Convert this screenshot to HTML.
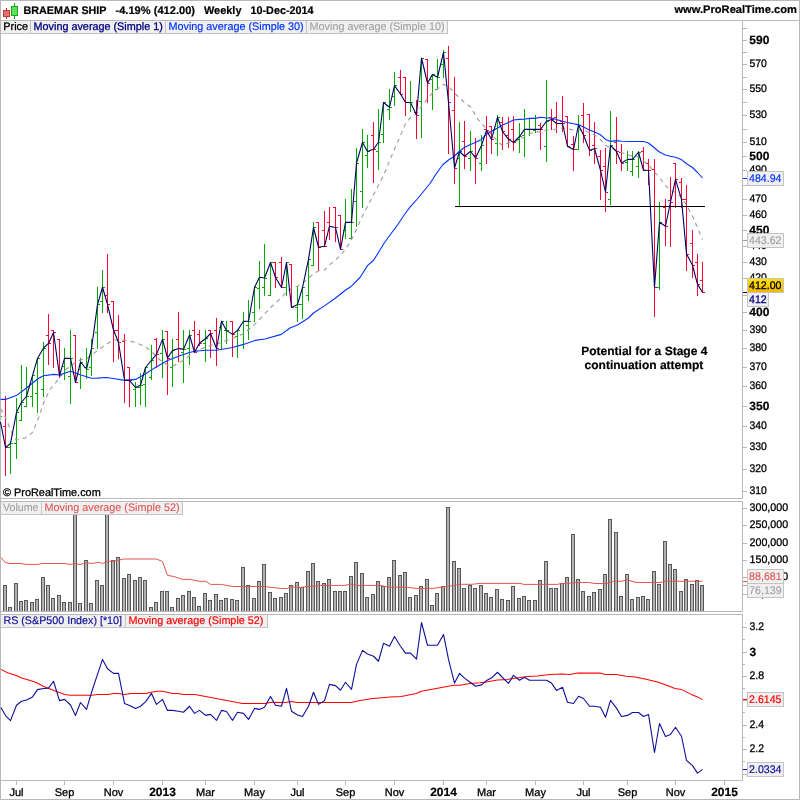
<!DOCTYPE html>
<html><head><meta charset="utf-8"><title>BRAEMAR SHIP Weekly</title>
<style>html,body{margin:0;padding:0;background:#fff}svg{display:block}</style></head>
<body>
<svg width="800" height="800" viewBox="0 0 800 800" font-family="&quot;Liberation Sans&quot;, Arial, sans-serif" text-rendering="geometricPrecision">
<rect x="0" y="0" width="800" height="800" fill="#fff"/>
<g shape-rendering="crispEdges">
<rect x="0" y="0" width="800" height="1" fill="#b8b8b8"/>
<rect x="0" y="799" width="800" height="1" fill="#b8b8b8"/>
<rect x="0" y="0" width="1" height="800" fill="#b8b8b8"/>
<rect x="799" y="0" width="1" height="800" fill="#b8b8b8"/>
<rect x="0" y="20" width="800" height="1" fill="#b8b8b8"/>
<rect x="0" y="498" width="743" height="1" fill="#b8b8b8"/>
<rect x="742" y="20" width="1" height="479" fill="#b8b8b8"/>
<rect x="0" y="501" width="743" height="1" fill="#b8b8b8"/>
<rect x="0" y="611" width="743" height="1" fill="#b8b8b8"/>
<rect x="742" y="501" width="1" height="111" fill="#b8b8b8"/>
<rect x="0" y="614" width="743" height="1" fill="#b8b8b8"/>
<rect x="0" y="780" width="743" height="1" fill="#b8b8b8"/>
<rect x="742" y="614" width="1" height="167" fill="#b8b8b8"/>
</g>
<g shape-rendering="crispEdges">
<rect x="743" y="491" width="4" height="1" fill="#b8b8b8"/>
<rect x="743" y="469" width="4" height="1" fill="#b8b8b8"/>
<rect x="743" y="447" width="4" height="1" fill="#b8b8b8"/>
<rect x="743" y="426" width="4" height="1" fill="#b8b8b8"/>
<rect x="743" y="406" width="4" height="1" fill="#b8b8b8"/>
<rect x="743" y="386" width="4" height="1" fill="#b8b8b8"/>
<rect x="743" y="367" width="4" height="1" fill="#b8b8b8"/>
<rect x="743" y="348" width="4" height="1" fill="#b8b8b8"/>
<rect x="743" y="330" width="4" height="1" fill="#b8b8b8"/>
<rect x="743" y="312" width="4" height="1" fill="#b8b8b8"/>
<rect x="743" y="295" width="4" height="1" fill="#b8b8b8"/>
<rect x="743" y="278" width="4" height="1" fill="#b8b8b8"/>
<rect x="743" y="262" width="4" height="1" fill="#b8b8b8"/>
<rect x="743" y="246" width="4" height="1" fill="#b8b8b8"/>
<rect x="743" y="230" width="4" height="1" fill="#b8b8b8"/>
<rect x="743" y="215" width="4" height="1" fill="#b8b8b8"/>
<rect x="743" y="199" width="4" height="1" fill="#b8b8b8"/>
<rect x="743" y="185" width="4" height="1" fill="#b8b8b8"/>
<rect x="743" y="170" width="4" height="1" fill="#b8b8b8"/>
<rect x="743" y="156" width="4" height="1" fill="#b8b8b8"/>
<rect x="743" y="142" width="4" height="1" fill="#b8b8b8"/>
<rect x="743" y="129" width="4" height="1" fill="#b8b8b8"/>
<rect x="743" y="115" width="4" height="1" fill="#b8b8b8"/>
<rect x="743" y="102" width="4" height="1" fill="#b8b8b8"/>
<rect x="743" y="89" width="4" height="1" fill="#b8b8b8"/>
<rect x="743" y="77" width="4" height="1" fill="#b8b8b8"/>
<rect x="743" y="64" width="4" height="1" fill="#b8b8b8"/>
<rect x="743" y="52" width="4" height="1" fill="#b8b8b8"/>
<rect x="743" y="40" width="4" height="1" fill="#b8b8b8"/>
<rect x="743" y="28" width="4" height="1" fill="#b8b8b8"/>
</g>
<text x="749.3" y="43.7" font-size="12" fill="#000" stroke="#000" stroke-width="0.2" font-weight="bold" xml:space="preserve">590</text>
<text x="749.5" y="67.0" font-size="11" fill="#000" stroke="#000" stroke-width="0.3" textLength="17.4" lengthAdjust="spacingAndGlyphs" xml:space="preserve">570</text>
<text x="749.5" y="92.0" font-size="11" fill="#000" stroke="#000" stroke-width="0.3" textLength="17.4" lengthAdjust="spacingAndGlyphs" xml:space="preserve">550</text>
<text x="749.5" y="118.0" font-size="11" fill="#000" stroke="#000" stroke-width="0.3" textLength="17.4" lengthAdjust="spacingAndGlyphs" xml:space="preserve">530</text>
<text x="749.5" y="145.0" font-size="11" fill="#000" stroke="#000" stroke-width="0.3" textLength="17.4" lengthAdjust="spacingAndGlyphs" xml:space="preserve">510</text>
<text x="749.3" y="159.7" font-size="12" fill="#000" stroke="#000" stroke-width="0.2" font-weight="bold" xml:space="preserve">500</text>
<text x="749.5" y="173.0" font-size="11" fill="#000" stroke="#000" stroke-width="0.3" textLength="17.4" lengthAdjust="spacingAndGlyphs" xml:space="preserve">490</text>
<text x="749.5" y="202.0" font-size="11" fill="#000" stroke="#000" stroke-width="0.3" textLength="17.4" lengthAdjust="spacingAndGlyphs" xml:space="preserve">470</text>
<text x="749.5" y="218.0" font-size="11" fill="#000" stroke="#000" stroke-width="0.3" textLength="17.4" lengthAdjust="spacingAndGlyphs" xml:space="preserve">460</text>
<text x="749.3" y="233.7" font-size="12" fill="#000" stroke="#000" stroke-width="0.2" font-weight="bold" xml:space="preserve">450</text>
<text x="749.5" y="249.0" font-size="11" fill="#000" stroke="#000" stroke-width="0.3" textLength="17.4" lengthAdjust="spacingAndGlyphs" xml:space="preserve">440</text>
<text x="749.5" y="265.0" font-size="11" fill="#000" stroke="#000" stroke-width="0.3" textLength="17.4" lengthAdjust="spacingAndGlyphs" xml:space="preserve">430</text>
<text x="749.5" y="281.0" font-size="11" fill="#000" stroke="#000" stroke-width="0.3" textLength="17.4" lengthAdjust="spacingAndGlyphs" xml:space="preserve">420</text>
<text x="749.3" y="315.7" font-size="12" fill="#000" stroke="#000" stroke-width="0.2" font-weight="bold" xml:space="preserve">400</text>
<text x="749.5" y="333.0" font-size="11" fill="#000" stroke="#000" stroke-width="0.3" textLength="17.4" lengthAdjust="spacingAndGlyphs" xml:space="preserve">390</text>
<text x="749.5" y="351.0" font-size="11" fill="#000" stroke="#000" stroke-width="0.3" textLength="17.4" lengthAdjust="spacingAndGlyphs" xml:space="preserve">380</text>
<text x="749.5" y="370.0" font-size="11" fill="#000" stroke="#000" stroke-width="0.3" textLength="17.4" lengthAdjust="spacingAndGlyphs" xml:space="preserve">370</text>
<text x="749.5" y="389.0" font-size="11" fill="#000" stroke="#000" stroke-width="0.3" textLength="17.4" lengthAdjust="spacingAndGlyphs" xml:space="preserve">360</text>
<text x="749.3" y="409.7" font-size="12" fill="#000" stroke="#000" stroke-width="0.2" font-weight="bold" xml:space="preserve">350</text>
<text x="749.5" y="429.0" font-size="11" fill="#000" stroke="#000" stroke-width="0.3" textLength="17.4" lengthAdjust="spacingAndGlyphs" xml:space="preserve">340</text>
<text x="749.5" y="450.0" font-size="11" fill="#000" stroke="#000" stroke-width="0.3" textLength="17.4" lengthAdjust="spacingAndGlyphs" xml:space="preserve">330</text>
<text x="749.5" y="472.0" font-size="11" fill="#000" stroke="#000" stroke-width="0.3" textLength="17.4" lengthAdjust="spacingAndGlyphs" xml:space="preserve">320</text>
<text x="749.5" y="494.0" font-size="11" fill="#000" stroke="#000" stroke-width="0.3" textLength="17.4" lengthAdjust="spacingAndGlyphs" xml:space="preserve">310</text>
<g shape-rendering="crispEdges">
<rect x="743" y="508" width="4" height="1" fill="#b8b8b8"/>
<rect x="743" y="525" width="4" height="1" fill="#b8b8b8"/>
<rect x="743" y="543" width="4" height="1" fill="#b8b8b8"/>
<rect x="743" y="560" width="4" height="1" fill="#b8b8b8"/>
<rect x="743" y="577" width="4" height="1" fill="#b8b8b8"/>
<rect x="743" y="594" width="4" height="1" fill="#b8b8b8"/>
</g>
<text x="749.5" y="511.0" font-size="11" fill="#000" stroke="#000" stroke-width="0.3" textLength="38.6" lengthAdjust="spacingAndGlyphs" xml:space="preserve">300,000</text>
<text x="749.5" y="528.0" font-size="11" fill="#000" stroke="#000" stroke-width="0.3" textLength="38.6" lengthAdjust="spacingAndGlyphs" xml:space="preserve">250,000</text>
<text x="749.5" y="546.0" font-size="11" fill="#000" stroke="#000" stroke-width="0.3" textLength="38.6" lengthAdjust="spacingAndGlyphs" xml:space="preserve">200,000</text>
<text x="749.5" y="563.0" font-size="11" fill="#000" stroke="#000" stroke-width="0.3" textLength="38.6" lengthAdjust="spacingAndGlyphs" xml:space="preserve">150,000</text>
<text x="749.5" y="580.0" font-size="11" fill="#000" stroke="#000" stroke-width="0.3" textLength="38.6" lengthAdjust="spacingAndGlyphs" xml:space="preserve">100,000</text>
<text x="749.5" y="597.0" font-size="11" fill="#000" stroke="#000" stroke-width="0.3" textLength="32.6" lengthAdjust="spacingAndGlyphs" xml:space="preserve">50,000</text>
<g shape-rendering="crispEdges">
<rect x="743" y="627" width="4" height="1" fill="#b8b8b8"/>
<rect x="743" y="639" width="2" height="1" fill="#b8b8b8"/>
<rect x="743" y="652" width="4" height="1" fill="#b8b8b8"/>
<rect x="743" y="664" width="2" height="1" fill="#b8b8b8"/>
<rect x="743" y="676" width="4" height="1" fill="#b8b8b8"/>
<rect x="743" y="688" width="2" height="1" fill="#b8b8b8"/>
<rect x="743" y="700" width="4" height="1" fill="#b8b8b8"/>
<rect x="743" y="712" width="2" height="1" fill="#b8b8b8"/>
<rect x="743" y="725" width="4" height="1" fill="#b8b8b8"/>
<rect x="743" y="737" width="2" height="1" fill="#b8b8b8"/>
<rect x="743" y="749" width="4" height="1" fill="#b8b8b8"/>
<rect x="743" y="761" width="2" height="1" fill="#b8b8b8"/>
<rect x="743" y="774" width="4" height="1" fill="#b8b8b8"/>
</g>
<text x="749.5" y="630.0" font-size="11" fill="#000" stroke="#000" stroke-width="0.3" textLength="14.6" lengthAdjust="spacingAndGlyphs" xml:space="preserve">3.2</text>
<text x="749.5" y="655.7" font-size="12" fill="#000" stroke="#000" stroke-width="0.2" font-weight="bold" xml:space="preserve">3</text>
<text x="749.5" y="679.0" font-size="11" fill="#000" stroke="#000" stroke-width="0.3" textLength="14.6" lengthAdjust="spacingAndGlyphs" xml:space="preserve">2.8</text>
<text x="749.5" y="703.0" font-size="11" fill="#000" stroke="#000" stroke-width="0.3" textLength="14.6" lengthAdjust="spacingAndGlyphs" xml:space="preserve">2.6</text>
<text x="749.5" y="728.0" font-size="11" fill="#000" stroke="#000" stroke-width="0.3" textLength="14.6" lengthAdjust="spacingAndGlyphs" xml:space="preserve">2.4</text>
<text x="749.5" y="752.0" font-size="11" fill="#000" stroke="#000" stroke-width="0.3" textLength="14.6" lengthAdjust="spacingAndGlyphs" xml:space="preserve">2.2</text>
<g shape-rendering="crispEdges">
<rect x="16" y="781" width="1" height="4" fill="#b8b8b8"/>
<rect x="64" y="781" width="1" height="4" fill="#b8b8b8"/>
<rect x="113" y="781" width="1" height="4" fill="#b8b8b8"/>
<rect x="162" y="781" width="1" height="4" fill="#b8b8b8"/>
<rect x="205" y="781" width="1" height="4" fill="#b8b8b8"/>
<rect x="254" y="781" width="1" height="4" fill="#b8b8b8"/>
<rect x="297" y="781" width="1" height="4" fill="#b8b8b8"/>
<rect x="345" y="781" width="1" height="4" fill="#b8b8b8"/>
<rect x="394" y="781" width="1" height="4" fill="#b8b8b8"/>
<rect x="443" y="781" width="1" height="4" fill="#b8b8b8"/>
<rect x="486" y="781" width="1" height="4" fill="#b8b8b8"/>
<rect x="535" y="781" width="1" height="4" fill="#b8b8b8"/>
<rect x="583" y="781" width="1" height="4" fill="#b8b8b8"/>
<rect x="627" y="781" width="1" height="4" fill="#b8b8b8"/>
<rect x="675" y="781" width="1" height="4" fill="#b8b8b8"/>
<rect x="724" y="781" width="1" height="4" fill="#b8b8b8"/>
</g>
<text x="16.5" y="795.6" font-size="11" fill="#000" stroke="#000" stroke-width="0.3" text-anchor="middle" xml:space="preserve">Jul</text>
<text x="64.5" y="795.6" font-size="11" fill="#000" stroke="#000" stroke-width="0.3" text-anchor="middle" xml:space="preserve">Sep</text>
<text x="113.5" y="795.6" font-size="11" fill="#000" stroke="#000" stroke-width="0.3" text-anchor="middle" xml:space="preserve">Nov</text>
<text x="162.5" y="795.6" font-size="12" fill="#000" stroke="#000" stroke-width="0.2" font-weight="bold" text-anchor="middle" xml:space="preserve">2013</text>
<text x="205.5" y="795.6" font-size="11" fill="#000" stroke="#000" stroke-width="0.3" text-anchor="middle" xml:space="preserve">Mar</text>
<text x="254.5" y="795.6" font-size="11" fill="#000" stroke="#000" stroke-width="0.3" text-anchor="middle" xml:space="preserve">May</text>
<text x="297.5" y="795.6" font-size="11" fill="#000" stroke="#000" stroke-width="0.3" text-anchor="middle" xml:space="preserve">Jul</text>
<text x="345.5" y="795.6" font-size="11" fill="#000" stroke="#000" stroke-width="0.3" text-anchor="middle" xml:space="preserve">Sep</text>
<text x="394.5" y="795.6" font-size="11" fill="#000" stroke="#000" stroke-width="0.3" text-anchor="middle" xml:space="preserve">Nov</text>
<text x="443.5" y="795.6" font-size="12" fill="#000" stroke="#000" stroke-width="0.2" font-weight="bold" text-anchor="middle" xml:space="preserve">2014</text>
<text x="486.5" y="795.6" font-size="11" fill="#000" stroke="#000" stroke-width="0.3" text-anchor="middle" xml:space="preserve">Mar</text>
<text x="535.5" y="795.6" font-size="11" fill="#000" stroke="#000" stroke-width="0.3" text-anchor="middle" xml:space="preserve">May</text>
<text x="583.5" y="795.6" font-size="11" fill="#000" stroke="#000" stroke-width="0.3" text-anchor="middle" xml:space="preserve">Jul</text>
<text x="627.5" y="795.6" font-size="11" fill="#000" stroke="#000" stroke-width="0.3" text-anchor="middle" xml:space="preserve">Sep</text>
<text x="675.5" y="795.6" font-size="11" fill="#000" stroke="#000" stroke-width="0.3" text-anchor="middle" xml:space="preserve">Nov</text>
<text x="724.5" y="795.6" font-size="12" fill="#000" stroke="#000" stroke-width="0.2" font-weight="bold" text-anchor="middle" xml:space="preserve">2015</text>
<g shape-rendering="crispEdges">
<rect x="3" y="585" width="4" height="26" fill="#585858"/>
<rect x="4" y="586" width="2" height="25" fill="#b2b2b2"/>
<rect x="8" y="607" width="4" height="4" fill="#585858"/>
<rect x="9" y="608" width="2" height="3" fill="#b2b2b2"/>
<rect x="14" y="583" width="4" height="28" fill="#585858"/>
<rect x="15" y="584" width="2" height="27" fill="#b2b2b2"/>
<rect x="19" y="601" width="4" height="10" fill="#585858"/>
<rect x="20" y="602" width="2" height="9" fill="#b2b2b2"/>
<rect x="24" y="600" width="4" height="11" fill="#585858"/>
<rect x="25" y="601" width="2" height="10" fill="#b2b2b2"/>
<rect x="30" y="602" width="4" height="9" fill="#585858"/>
<rect x="31" y="603" width="2" height="8" fill="#b2b2b2"/>
<rect x="35" y="599" width="4" height="12" fill="#585858"/>
<rect x="36" y="600" width="2" height="11" fill="#b2b2b2"/>
<rect x="41" y="577" width="4" height="34" fill="#585858"/>
<rect x="42" y="578" width="2" height="33" fill="#b2b2b2"/>
<rect x="46" y="585" width="4" height="26" fill="#585858"/>
<rect x="47" y="586" width="2" height="25" fill="#b2b2b2"/>
<rect x="51" y="598" width="4" height="13" fill="#585858"/>
<rect x="52" y="599" width="2" height="12" fill="#b2b2b2"/>
<rect x="57" y="595" width="4" height="16" fill="#585858"/>
<rect x="58" y="596" width="2" height="15" fill="#b2b2b2"/>
<rect x="62" y="602" width="4" height="9" fill="#585858"/>
<rect x="63" y="603" width="2" height="8" fill="#b2b2b2"/>
<rect x="68" y="602" width="4" height="9" fill="#585858"/>
<rect x="69" y="603" width="2" height="8" fill="#b2b2b2"/>
<rect x="73" y="502" width="4" height="109" fill="#585858"/>
<rect x="74" y="503" width="2" height="108" fill="#b2b2b2"/>
<rect x="78" y="603" width="4" height="8" fill="#585858"/>
<rect x="79" y="604" width="2" height="7" fill="#b2b2b2"/>
<rect x="84" y="560" width="4" height="51" fill="#585858"/>
<rect x="85" y="561" width="2" height="50" fill="#b2b2b2"/>
<rect x="89" y="603" width="4" height="8" fill="#585858"/>
<rect x="90" y="604" width="2" height="7" fill="#b2b2b2"/>
<rect x="95" y="580" width="4" height="31" fill="#585858"/>
<rect x="96" y="581" width="2" height="30" fill="#b2b2b2"/>
<rect x="100" y="585" width="4" height="26" fill="#585858"/>
<rect x="101" y="586" width="2" height="25" fill="#b2b2b2"/>
<rect x="105" y="502" width="4" height="109" fill="#585858"/>
<rect x="106" y="503" width="2" height="108" fill="#b2b2b2"/>
<rect x="111" y="560" width="4" height="51" fill="#585858"/>
<rect x="112" y="561" width="2" height="50" fill="#b2b2b2"/>
<rect x="116" y="557" width="4" height="54" fill="#585858"/>
<rect x="117" y="558" width="2" height="53" fill="#b2b2b2"/>
<rect x="122" y="578" width="4" height="33" fill="#585858"/>
<rect x="123" y="579" width="2" height="32" fill="#b2b2b2"/>
<rect x="127" y="574" width="4" height="37" fill="#585858"/>
<rect x="128" y="575" width="2" height="36" fill="#b2b2b2"/>
<rect x="133" y="580" width="4" height="31" fill="#585858"/>
<rect x="134" y="581" width="2" height="30" fill="#b2b2b2"/>
<rect x="138" y="577" width="4" height="34" fill="#585858"/>
<rect x="139" y="578" width="2" height="33" fill="#b2b2b2"/>
<rect x="143" y="580" width="4" height="31" fill="#585858"/>
<rect x="144" y="581" width="2" height="30" fill="#b2b2b2"/>
<rect x="149" y="607" width="4" height="4" fill="#585858"/>
<rect x="150" y="608" width="2" height="3" fill="#b2b2b2"/>
<rect x="154" y="602" width="4" height="9" fill="#585858"/>
<rect x="155" y="603" width="2" height="8" fill="#b2b2b2"/>
<rect x="160" y="591" width="4" height="20" fill="#585858"/>
<rect x="161" y="592" width="2" height="19" fill="#b2b2b2"/>
<rect x="165" y="591" width="4" height="20" fill="#585858"/>
<rect x="166" y="592" width="2" height="19" fill="#b2b2b2"/>
<rect x="170" y="607" width="4" height="4" fill="#585858"/>
<rect x="171" y="608" width="2" height="3" fill="#b2b2b2"/>
<rect x="176" y="598" width="4" height="13" fill="#585858"/>
<rect x="177" y="599" width="2" height="12" fill="#b2b2b2"/>
<rect x="181" y="595" width="4" height="16" fill="#585858"/>
<rect x="182" y="596" width="2" height="15" fill="#b2b2b2"/>
<rect x="187" y="591" width="4" height="20" fill="#585858"/>
<rect x="188" y="592" width="2" height="19" fill="#b2b2b2"/>
<rect x="192" y="597" width="4" height="14" fill="#585858"/>
<rect x="193" y="598" width="2" height="13" fill="#b2b2b2"/>
<rect x="197" y="606" width="4" height="5" fill="#585858"/>
<rect x="198" y="607" width="2" height="4" fill="#b2b2b2"/>
<rect x="203" y="593" width="4" height="18" fill="#585858"/>
<rect x="204" y="594" width="2" height="17" fill="#b2b2b2"/>
<rect x="208" y="600" width="4" height="11" fill="#585858"/>
<rect x="209" y="601" width="2" height="10" fill="#b2b2b2"/>
<rect x="214" y="594" width="4" height="17" fill="#585858"/>
<rect x="215" y="595" width="2" height="16" fill="#b2b2b2"/>
<rect x="219" y="600" width="4" height="11" fill="#585858"/>
<rect x="220" y="601" width="2" height="10" fill="#b2b2b2"/>
<rect x="224" y="598" width="4" height="13" fill="#585858"/>
<rect x="225" y="599" width="2" height="12" fill="#b2b2b2"/>
<rect x="230" y="599" width="4" height="12" fill="#585858"/>
<rect x="231" y="600" width="2" height="11" fill="#b2b2b2"/>
<rect x="235" y="600" width="4" height="11" fill="#585858"/>
<rect x="236" y="601" width="2" height="10" fill="#b2b2b2"/>
<rect x="241" y="567" width="4" height="44" fill="#585858"/>
<rect x="242" y="568" width="2" height="43" fill="#b2b2b2"/>
<rect x="246" y="585" width="4" height="26" fill="#585858"/>
<rect x="247" y="586" width="2" height="25" fill="#b2b2b2"/>
<rect x="252" y="598" width="4" height="13" fill="#585858"/>
<rect x="253" y="599" width="2" height="12" fill="#b2b2b2"/>
<rect x="257" y="581" width="4" height="30" fill="#585858"/>
<rect x="258" y="582" width="2" height="29" fill="#b2b2b2"/>
<rect x="262" y="564" width="4" height="47" fill="#585858"/>
<rect x="263" y="565" width="2" height="46" fill="#b2b2b2"/>
<rect x="268" y="592" width="4" height="19" fill="#585858"/>
<rect x="269" y="593" width="2" height="18" fill="#b2b2b2"/>
<rect x="273" y="598" width="4" height="13" fill="#585858"/>
<rect x="274" y="599" width="2" height="12" fill="#b2b2b2"/>
<rect x="279" y="597" width="4" height="14" fill="#585858"/>
<rect x="280" y="598" width="2" height="13" fill="#b2b2b2"/>
<rect x="284" y="593" width="4" height="18" fill="#585858"/>
<rect x="285" y="594" width="2" height="17" fill="#b2b2b2"/>
<rect x="289" y="585" width="4" height="26" fill="#585858"/>
<rect x="290" y="586" width="2" height="25" fill="#b2b2b2"/>
<rect x="295" y="582" width="4" height="29" fill="#585858"/>
<rect x="296" y="583" width="2" height="28" fill="#b2b2b2"/>
<rect x="300" y="587" width="4" height="24" fill="#585858"/>
<rect x="301" y="588" width="2" height="23" fill="#b2b2b2"/>
<rect x="306" y="571" width="4" height="40" fill="#585858"/>
<rect x="307" y="572" width="2" height="39" fill="#b2b2b2"/>
<rect x="311" y="563" width="4" height="48" fill="#585858"/>
<rect x="312" y="564" width="2" height="47" fill="#b2b2b2"/>
<rect x="316" y="581" width="4" height="30" fill="#585858"/>
<rect x="317" y="582" width="2" height="29" fill="#b2b2b2"/>
<rect x="322" y="583" width="4" height="28" fill="#585858"/>
<rect x="323" y="584" width="2" height="27" fill="#b2b2b2"/>
<rect x="327" y="579" width="4" height="32" fill="#585858"/>
<rect x="328" y="580" width="2" height="31" fill="#b2b2b2"/>
<rect x="333" y="591" width="4" height="20" fill="#585858"/>
<rect x="334" y="592" width="2" height="19" fill="#b2b2b2"/>
<rect x="338" y="591" width="4" height="20" fill="#585858"/>
<rect x="339" y="592" width="2" height="19" fill="#b2b2b2"/>
<rect x="343" y="591" width="4" height="20" fill="#585858"/>
<rect x="344" y="592" width="2" height="19" fill="#b2b2b2"/>
<rect x="349" y="576" width="4" height="35" fill="#585858"/>
<rect x="350" y="577" width="2" height="34" fill="#b2b2b2"/>
<rect x="354" y="562" width="4" height="49" fill="#585858"/>
<rect x="355" y="563" width="2" height="48" fill="#b2b2b2"/>
<rect x="360" y="573" width="4" height="38" fill="#585858"/>
<rect x="361" y="574" width="2" height="37" fill="#b2b2b2"/>
<rect x="365" y="597" width="4" height="14" fill="#585858"/>
<rect x="366" y="598" width="2" height="13" fill="#b2b2b2"/>
<rect x="371" y="594" width="4" height="17" fill="#585858"/>
<rect x="372" y="595" width="2" height="16" fill="#b2b2b2"/>
<rect x="376" y="581" width="4" height="30" fill="#585858"/>
<rect x="377" y="582" width="2" height="29" fill="#b2b2b2"/>
<rect x="381" y="586" width="4" height="25" fill="#585858"/>
<rect x="382" y="587" width="2" height="24" fill="#b2b2b2"/>
<rect x="387" y="577" width="4" height="34" fill="#585858"/>
<rect x="388" y="578" width="2" height="33" fill="#b2b2b2"/>
<rect x="392" y="560" width="4" height="51" fill="#585858"/>
<rect x="393" y="561" width="2" height="50" fill="#b2b2b2"/>
<rect x="398" y="575" width="4" height="36" fill="#585858"/>
<rect x="399" y="576" width="2" height="35" fill="#b2b2b2"/>
<rect x="403" y="572" width="4" height="39" fill="#585858"/>
<rect x="404" y="573" width="2" height="38" fill="#b2b2b2"/>
<rect x="408" y="597" width="4" height="14" fill="#585858"/>
<rect x="409" y="598" width="2" height="13" fill="#b2b2b2"/>
<rect x="414" y="595" width="4" height="16" fill="#585858"/>
<rect x="415" y="596" width="2" height="15" fill="#b2b2b2"/>
<rect x="419" y="586" width="4" height="25" fill="#585858"/>
<rect x="420" y="587" width="2" height="24" fill="#b2b2b2"/>
<rect x="425" y="579" width="4" height="32" fill="#585858"/>
<rect x="426" y="580" width="2" height="31" fill="#b2b2b2"/>
<rect x="430" y="605" width="4" height="6" fill="#585858"/>
<rect x="431" y="606" width="2" height="5" fill="#b2b2b2"/>
<rect x="435" y="593" width="4" height="18" fill="#585858"/>
<rect x="436" y="594" width="2" height="17" fill="#b2b2b2"/>
<rect x="441" y="586" width="4" height="25" fill="#585858"/>
<rect x="442" y="587" width="2" height="24" fill="#b2b2b2"/>
<rect x="446" y="507" width="4" height="104" fill="#585858"/>
<rect x="447" y="508" width="2" height="103" fill="#b2b2b2"/>
<rect x="452" y="561" width="4" height="50" fill="#585858"/>
<rect x="453" y="562" width="2" height="49" fill="#b2b2b2"/>
<rect x="457" y="568" width="4" height="43" fill="#585858"/>
<rect x="458" y="569" width="2" height="42" fill="#b2b2b2"/>
<rect x="462" y="588" width="4" height="23" fill="#585858"/>
<rect x="463" y="589" width="2" height="22" fill="#b2b2b2"/>
<rect x="468" y="585" width="4" height="26" fill="#585858"/>
<rect x="469" y="586" width="2" height="25" fill="#b2b2b2"/>
<rect x="473" y="588" width="4" height="23" fill="#585858"/>
<rect x="474" y="589" width="2" height="22" fill="#b2b2b2"/>
<rect x="479" y="585" width="4" height="26" fill="#585858"/>
<rect x="480" y="586" width="2" height="25" fill="#b2b2b2"/>
<rect x="484" y="593" width="4" height="18" fill="#585858"/>
<rect x="485" y="594" width="2" height="17" fill="#b2b2b2"/>
<rect x="489" y="597" width="4" height="14" fill="#585858"/>
<rect x="490" y="598" width="2" height="13" fill="#b2b2b2"/>
<rect x="495" y="589" width="4" height="22" fill="#585858"/>
<rect x="496" y="590" width="2" height="21" fill="#b2b2b2"/>
<rect x="500" y="599" width="4" height="12" fill="#585858"/>
<rect x="501" y="600" width="2" height="11" fill="#b2b2b2"/>
<rect x="506" y="600" width="4" height="11" fill="#585858"/>
<rect x="507" y="601" width="2" height="10" fill="#b2b2b2"/>
<rect x="511" y="586" width="4" height="25" fill="#585858"/>
<rect x="512" y="587" width="2" height="24" fill="#b2b2b2"/>
<rect x="517" y="598" width="4" height="13" fill="#585858"/>
<rect x="518" y="599" width="2" height="12" fill="#b2b2b2"/>
<rect x="522" y="596" width="4" height="15" fill="#585858"/>
<rect x="523" y="597" width="2" height="14" fill="#b2b2b2"/>
<rect x="527" y="600" width="4" height="11" fill="#585858"/>
<rect x="528" y="601" width="2" height="10" fill="#b2b2b2"/>
<rect x="533" y="600" width="4" height="11" fill="#585858"/>
<rect x="534" y="601" width="2" height="10" fill="#b2b2b2"/>
<rect x="538" y="580" width="4" height="31" fill="#585858"/>
<rect x="539" y="581" width="2" height="30" fill="#b2b2b2"/>
<rect x="544" y="561" width="4" height="50" fill="#585858"/>
<rect x="545" y="562" width="2" height="49" fill="#b2b2b2"/>
<rect x="549" y="588" width="4" height="23" fill="#585858"/>
<rect x="550" y="589" width="2" height="22" fill="#b2b2b2"/>
<rect x="554" y="588" width="4" height="23" fill="#585858"/>
<rect x="555" y="589" width="2" height="22" fill="#b2b2b2"/>
<rect x="560" y="583" width="4" height="28" fill="#585858"/>
<rect x="561" y="584" width="2" height="27" fill="#b2b2b2"/>
<rect x="565" y="577" width="4" height="34" fill="#585858"/>
<rect x="566" y="578" width="2" height="33" fill="#b2b2b2"/>
<rect x="571" y="534" width="4" height="77" fill="#585858"/>
<rect x="572" y="535" width="2" height="76" fill="#b2b2b2"/>
<rect x="576" y="579" width="4" height="32" fill="#585858"/>
<rect x="577" y="580" width="2" height="31" fill="#b2b2b2"/>
<rect x="581" y="591" width="4" height="20" fill="#585858"/>
<rect x="582" y="592" width="2" height="19" fill="#b2b2b2"/>
<rect x="587" y="596" width="4" height="15" fill="#585858"/>
<rect x="588" y="597" width="2" height="14" fill="#b2b2b2"/>
<rect x="592" y="592" width="4" height="19" fill="#585858"/>
<rect x="593" y="593" width="2" height="18" fill="#b2b2b2"/>
<rect x="598" y="589" width="4" height="22" fill="#585858"/>
<rect x="599" y="590" width="2" height="21" fill="#b2b2b2"/>
<rect x="603" y="574" width="4" height="37" fill="#585858"/>
<rect x="604" y="575" width="2" height="36" fill="#b2b2b2"/>
<rect x="608" y="519" width="4" height="92" fill="#585858"/>
<rect x="609" y="520" width="2" height="91" fill="#b2b2b2"/>
<rect x="614" y="532" width="4" height="79" fill="#585858"/>
<rect x="615" y="533" width="2" height="78" fill="#b2b2b2"/>
<rect x="619" y="596" width="4" height="15" fill="#585858"/>
<rect x="620" y="597" width="2" height="14" fill="#b2b2b2"/>
<rect x="625" y="574" width="4" height="37" fill="#585858"/>
<rect x="626" y="575" width="2" height="36" fill="#b2b2b2"/>
<rect x="630" y="599" width="4" height="12" fill="#585858"/>
<rect x="631" y="600" width="2" height="11" fill="#b2b2b2"/>
<rect x="636" y="597" width="4" height="14" fill="#585858"/>
<rect x="637" y="598" width="2" height="13" fill="#b2b2b2"/>
<rect x="641" y="596" width="4" height="15" fill="#585858"/>
<rect x="642" y="597" width="2" height="14" fill="#b2b2b2"/>
<rect x="646" y="599" width="4" height="12" fill="#585858"/>
<rect x="647" y="600" width="2" height="11" fill="#b2b2b2"/>
<rect x="652" y="571" width="4" height="40" fill="#585858"/>
<rect x="653" y="572" width="2" height="39" fill="#b2b2b2"/>
<rect x="657" y="584" width="4" height="27" fill="#585858"/>
<rect x="658" y="585" width="2" height="26" fill="#b2b2b2"/>
<rect x="663" y="541" width="4" height="70" fill="#585858"/>
<rect x="664" y="542" width="2" height="69" fill="#b2b2b2"/>
<rect x="668" y="564" width="4" height="47" fill="#585858"/>
<rect x="669" y="565" width="2" height="46" fill="#b2b2b2"/>
<rect x="673" y="569" width="4" height="42" fill="#585858"/>
<rect x="674" y="570" width="2" height="41" fill="#b2b2b2"/>
<rect x="679" y="591" width="4" height="20" fill="#585858"/>
<rect x="680" y="592" width="2" height="19" fill="#b2b2b2"/>
<rect x="684" y="579" width="4" height="32" fill="#585858"/>
<rect x="685" y="580" width="2" height="31" fill="#b2b2b2"/>
<rect x="690" y="584" width="4" height="27" fill="#585858"/>
<rect x="691" y="585" width="2" height="26" fill="#b2b2b2"/>
<rect x="695" y="580" width="4" height="31" fill="#585858"/>
<rect x="696" y="581" width="2" height="30" fill="#b2b2b2"/>
<rect x="700" y="585" width="4" height="26" fill="#585858"/>
<rect x="701" y="586" width="2" height="25" fill="#b2b2b2"/>
</g>
<polyline points="1.00,557.50 5.00,562.25 10.00,563.50 20.00,563.50 26.25,564.40 37.50,564.40 42.50,563.50 65.00,563.50 70.00,564.50 75.00,563.50 80.00,564.50 86.25,563.00 92.50,563.40 98.75,562.25 102.50,563.50 107.50,561.50 115.00,561.00 123.75,559.00 156.25,559.00 162.50,561.50 167.50,575.40 173.75,576.50 182.50,579.40 190.00,579.40 198.75,581.25 205.60,581.25 210.60,584.40 221.25,584.40 232.50,586.50 265.00,586.50 270.00,587.25 281.25,588.50 287.50,588.50 290.00,586.90 300.00,587.50 307.50,586.50 315.00,586.25 318.75,585.40 345.00,585.40 350.60,584.10 356.25,585.40 380.00,585.40 388.60,587.20 405.90,587.20 415.90,588.40 433.20,588.40 443.20,586.90 451.80,585.80 460.50,584.30 472.00,584.30 480.00,583.40 520.00,583.40 523.75,584.40 557.50,584.40 561.25,583.40 567.50,583.40 575.00,582.60 588.75,582.50 595.00,583.50 606.25,583.50 613.75,581.25 621.25,581.25 627.50,580.00 635.00,582.25 640.00,582.50 660.00,582.50 665.00,581.25 702.50,581.25" fill="none" stroke="#e05555" stroke-width="1"/>
<g shape-rendering="crispEdges">
<rect x="5" y="396" width="1" height="80" fill="#ff0033"/>
<rect x="3" y="426" width="2" height="1" fill="#ff0033"/>
<rect x="6" y="447" width="2" height="1" fill="#ff0033"/>
<rect x="10" y="443" width="1" height="31" fill="#00aa00"/>
<rect x="8" y="447" width="2" height="1" fill="#00aa00"/>
<rect x="11" y="443" width="2" height="1" fill="#00aa00"/>
<rect x="16" y="398" width="1" height="61" fill="#00aa00"/>
<rect x="14" y="443" width="2" height="1" fill="#00aa00"/>
<rect x="17" y="412" width="2" height="1" fill="#00aa00"/>
<rect x="21" y="365" width="1" height="56" fill="#00aa00"/>
<rect x="19" y="420" width="2" height="1" fill="#00aa00"/>
<rect x="22" y="402" width="2" height="1" fill="#00aa00"/>
<rect x="26" y="367" width="1" height="40" fill="#00aa00"/>
<rect x="24" y="406" width="2" height="1" fill="#00aa00"/>
<rect x="27" y="396" width="2" height="1" fill="#00aa00"/>
<rect x="32" y="375" width="1" height="32" fill="#00aa00"/>
<rect x="30" y="396" width="2" height="1" fill="#00aa00"/>
<rect x="33" y="375" width="2" height="1" fill="#00aa00"/>
<rect x="37" y="358" width="1" height="55" fill="#00aa00"/>
<rect x="35" y="393" width="2" height="1" fill="#00aa00"/>
<rect x="38" y="358" width="2" height="1" fill="#00aa00"/>
<rect x="43" y="342" width="1" height="55" fill="#00aa00"/>
<rect x="41" y="389" width="2" height="1" fill="#00aa00"/>
<rect x="44" y="348" width="2" height="1" fill="#00aa00"/>
<rect x="48" y="314" width="1" height="51" fill="#ff0033"/>
<rect x="46" y="335" width="2" height="1" fill="#ff0033"/>
<rect x="49" y="343" width="2" height="1" fill="#ff0033"/>
<rect x="53" y="330" width="1" height="38" fill="#ff0033"/>
<rect x="51" y="330" width="2" height="1" fill="#ff0033"/>
<rect x="54" y="332" width="2" height="1" fill="#ff0033"/>
<rect x="59" y="339" width="1" height="39" fill="#ff0033"/>
<rect x="57" y="339" width="2" height="1" fill="#ff0033"/>
<rect x="60" y="375" width="2" height="1" fill="#ff0033"/>
<rect x="64" y="348" width="1" height="32" fill="#00aa00"/>
<rect x="62" y="366" width="2" height="1" fill="#00aa00"/>
<rect x="65" y="358" width="2" height="1" fill="#00aa00"/>
<rect x="70" y="330" width="1" height="74" fill="#00aa00"/>
<rect x="68" y="376" width="2" height="1" fill="#00aa00"/>
<rect x="71" y="358" width="2" height="1" fill="#00aa00"/>
<rect x="75" y="335" width="1" height="48" fill="#ff0033"/>
<rect x="73" y="335" width="2" height="1" fill="#ff0033"/>
<rect x="76" y="382" width="2" height="1" fill="#ff0033"/>
<rect x="80" y="358" width="1" height="31" fill="#00aa00"/>
<rect x="78" y="369" width="2" height="1" fill="#00aa00"/>
<rect x="81" y="362" width="2" height="1" fill="#00aa00"/>
<rect x="86" y="348" width="1" height="31" fill="#00aa00"/>
<rect x="84" y="367" width="2" height="1" fill="#00aa00"/>
<rect x="87" y="369" width="2" height="1" fill="#00aa00"/>
<rect x="91" y="339" width="1" height="37" fill="#00aa00"/>
<rect x="89" y="367" width="2" height="1" fill="#00aa00"/>
<rect x="92" y="348" width="2" height="1" fill="#00aa00"/>
<rect x="97" y="287" width="1" height="62" fill="#00aa00"/>
<rect x="95" y="332" width="2" height="1" fill="#00aa00"/>
<rect x="98" y="304" width="2" height="1" fill="#00aa00"/>
<rect x="102" y="270" width="1" height="43" fill="#00aa00"/>
<rect x="100" y="301" width="2" height="1" fill="#00aa00"/>
<rect x="103" y="287" width="2" height="1" fill="#00aa00"/>
<rect x="107" y="254" width="1" height="59" fill="#ff0033"/>
<rect x="105" y="295" width="2" height="1" fill="#ff0033"/>
<rect x="108" y="304" width="2" height="1" fill="#ff0033"/>
<rect x="113" y="301" width="1" height="61" fill="#ff0033"/>
<rect x="111" y="301" width="2" height="1" fill="#ff0033"/>
<rect x="114" y="330" width="2" height="1" fill="#ff0033"/>
<rect x="118" y="315" width="1" height="44" fill="#ff0033"/>
<rect x="116" y="330" width="2" height="1" fill="#ff0033"/>
<rect x="119" y="342" width="2" height="1" fill="#ff0033"/>
<rect x="124" y="334" width="1" height="69" fill="#ff0033"/>
<rect x="122" y="341" width="2" height="1" fill="#ff0033"/>
<rect x="125" y="380" width="2" height="1" fill="#ff0033"/>
<rect x="129" y="367" width="1" height="40" fill="#ff0033"/>
<rect x="127" y="367" width="2" height="1" fill="#ff0033"/>
<rect x="130" y="380" width="2" height="1" fill="#ff0033"/>
<rect x="135" y="382" width="1" height="25" fill="#00aa00"/>
<rect x="133" y="389" width="2" height="1" fill="#00aa00"/>
<rect x="136" y="387" width="2" height="1" fill="#00aa00"/>
<rect x="140" y="373" width="1" height="32" fill="#00aa00"/>
<rect x="138" y="387" width="2" height="1" fill="#00aa00"/>
<rect x="141" y="385" width="2" height="1" fill="#00aa00"/>
<rect x="145" y="367" width="1" height="40" fill="#00aa00"/>
<rect x="143" y="384" width="2" height="1" fill="#00aa00"/>
<rect x="146" y="367" width="2" height="1" fill="#00aa00"/>
<rect x="151" y="345" width="1" height="35" fill="#00aa00"/>
<rect x="149" y="377" width="2" height="1" fill="#00aa00"/>
<rect x="152" y="360" width="2" height="1" fill="#00aa00"/>
<rect x="156" y="338" width="1" height="30" fill="#ff0033"/>
<rect x="154" y="339" width="2" height="1" fill="#ff0033"/>
<rect x="157" y="354" width="2" height="1" fill="#ff0033"/>
<rect x="162" y="330" width="1" height="48" fill="#00aa00"/>
<rect x="160" y="353" width="2" height="1" fill="#00aa00"/>
<rect x="163" y="339" width="2" height="1" fill="#00aa00"/>
<rect x="167" y="331" width="1" height="64" fill="#ff0033"/>
<rect x="165" y="331" width="2" height="1" fill="#ff0033"/>
<rect x="168" y="358" width="2" height="1" fill="#ff0033"/>
<rect x="172" y="339" width="1" height="48" fill="#00aa00"/>
<rect x="170" y="367" width="2" height="1" fill="#00aa00"/>
<rect x="173" y="350" width="2" height="1" fill="#00aa00"/>
<rect x="178" y="312" width="1" height="50" fill="#ff0033"/>
<rect x="176" y="339" width="2" height="1" fill="#ff0033"/>
<rect x="179" y="348" width="2" height="1" fill="#ff0033"/>
<rect x="183" y="330" width="1" height="53" fill="#00aa00"/>
<rect x="181" y="352" width="2" height="1" fill="#00aa00"/>
<rect x="184" y="349" width="2" height="1" fill="#00aa00"/>
<rect x="189" y="330" width="1" height="35" fill="#00aa00"/>
<rect x="187" y="348" width="2" height="1" fill="#00aa00"/>
<rect x="190" y="335" width="2" height="1" fill="#00aa00"/>
<rect x="194" y="321" width="1" height="32" fill="#ff0033"/>
<rect x="192" y="330" width="2" height="1" fill="#ff0033"/>
<rect x="195" y="352" width="2" height="1" fill="#ff0033"/>
<rect x="199" y="330" width="1" height="16" fill="#ff0033"/>
<rect x="197" y="334" width="2" height="1" fill="#ff0033"/>
<rect x="200" y="343" width="2" height="1" fill="#ff0033"/>
<rect x="205" y="330" width="1" height="32" fill="#00aa00"/>
<rect x="203" y="343" width="2" height="1" fill="#00aa00"/>
<rect x="206" y="338" width="2" height="1" fill="#00aa00"/>
<rect x="210" y="330" width="1" height="28" fill="#ff0033"/>
<rect x="208" y="330" width="2" height="1" fill="#ff0033"/>
<rect x="211" y="333" width="2" height="1" fill="#ff0033"/>
<rect x="216" y="318" width="1" height="48" fill="#ff0033"/>
<rect x="214" y="330" width="2" height="1" fill="#ff0033"/>
<rect x="217" y="348" width="2" height="1" fill="#ff0033"/>
<rect x="221" y="321" width="1" height="28" fill="#00aa00"/>
<rect x="219" y="327" width="2" height="1" fill="#00aa00"/>
<rect x="222" y="321" width="2" height="1" fill="#00aa00"/>
<rect x="226" y="321" width="1" height="23" fill="#00aa00"/>
<rect x="224" y="330" width="2" height="1" fill="#00aa00"/>
<rect x="227" y="330" width="2" height="1" fill="#00aa00"/>
<rect x="232" y="321" width="1" height="36" fill="#ff0033"/>
<rect x="230" y="321" width="2" height="1" fill="#ff0033"/>
<rect x="233" y="334" width="2" height="1" fill="#ff0033"/>
<rect x="237" y="330" width="1" height="28" fill="#00aa00"/>
<rect x="235" y="336" width="2" height="1" fill="#00aa00"/>
<rect x="238" y="330" width="2" height="1" fill="#00aa00"/>
<rect x="243" y="312" width="1" height="37" fill="#00aa00"/>
<rect x="241" y="334" width="2" height="1" fill="#00aa00"/>
<rect x="244" y="321" width="2" height="1" fill="#00aa00"/>
<rect x="248" y="300" width="1" height="40" fill="#00aa00"/>
<rect x="246" y="325" width="2" height="1" fill="#00aa00"/>
<rect x="249" y="321" width="2" height="1" fill="#00aa00"/>
<rect x="254" y="286" width="1" height="36" fill="#00aa00"/>
<rect x="252" y="312" width="2" height="1" fill="#00aa00"/>
<rect x="255" y="287" width="2" height="1" fill="#00aa00"/>
<rect x="259" y="261" width="1" height="48" fill="#00aa00"/>
<rect x="257" y="288" width="2" height="1" fill="#00aa00"/>
<rect x="260" y="277" width="2" height="1" fill="#00aa00"/>
<rect x="264" y="244" width="1" height="52" fill="#00aa00"/>
<rect x="262" y="287" width="2" height="1" fill="#00aa00"/>
<rect x="265" y="278" width="2" height="1" fill="#00aa00"/>
<rect x="270" y="262" width="1" height="34" fill="#00aa00"/>
<rect x="268" y="295" width="2" height="1" fill="#00aa00"/>
<rect x="271" y="262" width="2" height="1" fill="#00aa00"/>
<rect x="275" y="262" width="1" height="26" fill="#ff0033"/>
<rect x="273" y="262" width="2" height="1" fill="#ff0033"/>
<rect x="276" y="277" width="2" height="1" fill="#ff0033"/>
<rect x="281" y="257" width="1" height="31" fill="#ff0033"/>
<rect x="279" y="262" width="2" height="1" fill="#ff0033"/>
<rect x="282" y="287" width="2" height="1" fill="#ff0033"/>
<rect x="286" y="262" width="1" height="34" fill="#00aa00"/>
<rect x="284" y="287" width="2" height="1" fill="#00aa00"/>
<rect x="287" y="262" width="2" height="1" fill="#00aa00"/>
<rect x="291" y="264" width="1" height="44" fill="#ff0033"/>
<rect x="289" y="264" width="2" height="1" fill="#ff0033"/>
<rect x="292" y="307" width="2" height="1" fill="#ff0033"/>
<rect x="297" y="286" width="1" height="36" fill="#00aa00"/>
<rect x="295" y="307" width="2" height="1" fill="#00aa00"/>
<rect x="298" y="304" width="2" height="1" fill="#00aa00"/>
<rect x="302" y="287" width="1" height="32" fill="#00aa00"/>
<rect x="300" y="304" width="2" height="1" fill="#00aa00"/>
<rect x="303" y="287" width="2" height="1" fill="#00aa00"/>
<rect x="308" y="257" width="1" height="44" fill="#00aa00"/>
<rect x="306" y="295" width="2" height="1" fill="#00aa00"/>
<rect x="309" y="259" width="2" height="1" fill="#00aa00"/>
<rect x="313" y="222" width="1" height="44" fill="#00aa00"/>
<rect x="311" y="265" width="2" height="1" fill="#00aa00"/>
<rect x="314" y="227" width="2" height="1" fill="#00aa00"/>
<rect x="318" y="222" width="1" height="49" fill="#ff0033"/>
<rect x="316" y="222" width="2" height="1" fill="#ff0033"/>
<rect x="319" y="247" width="2" height="1" fill="#ff0033"/>
<rect x="324" y="211" width="1" height="36" fill="#ff0033"/>
<rect x="322" y="230" width="2" height="1" fill="#ff0033"/>
<rect x="325" y="246" width="2" height="1" fill="#ff0033"/>
<rect x="329" y="207" width="1" height="33" fill="#ff0033"/>
<rect x="327" y="222" width="2" height="1" fill="#ff0033"/>
<rect x="330" y="226" width="2" height="1" fill="#ff0033"/>
<rect x="335" y="207" width="1" height="35" fill="#ff0033"/>
<rect x="333" y="207" width="2" height="1" fill="#ff0033"/>
<rect x="336" y="227" width="2" height="1" fill="#ff0033"/>
<rect x="340" y="215" width="1" height="35" fill="#ff0033"/>
<rect x="338" y="215" width="2" height="1" fill="#ff0033"/>
<rect x="341" y="249" width="2" height="1" fill="#ff0033"/>
<rect x="345" y="199" width="1" height="40" fill="#00aa00"/>
<rect x="343" y="230" width="2" height="1" fill="#00aa00"/>
<rect x="346" y="222" width="2" height="1" fill="#00aa00"/>
<rect x="351" y="189" width="1" height="50" fill="#00aa00"/>
<rect x="349" y="238" width="2" height="1" fill="#00aa00"/>
<rect x="352" y="222" width="2" height="1" fill="#00aa00"/>
<rect x="356" y="148" width="1" height="79" fill="#00aa00"/>
<rect x="354" y="201" width="2" height="1" fill="#00aa00"/>
<rect x="357" y="163" width="2" height="1" fill="#00aa00"/>
<rect x="362" y="129" width="1" height="79" fill="#00aa00"/>
<rect x="360" y="191" width="2" height="1" fill="#00aa00"/>
<rect x="363" y="142" width="2" height="1" fill="#00aa00"/>
<rect x="367" y="135" width="1" height="33" fill="#00aa00"/>
<rect x="365" y="155" width="2" height="1" fill="#00aa00"/>
<rect x="368" y="151" width="2" height="1" fill="#00aa00"/>
<rect x="373" y="122" width="1" height="61" fill="#ff0033"/>
<rect x="371" y="135" width="2" height="1" fill="#ff0033"/>
<rect x="374" y="149" width="2" height="1" fill="#ff0033"/>
<rect x="378" y="109" width="1" height="61" fill="#00aa00"/>
<rect x="376" y="151" width="2" height="1" fill="#00aa00"/>
<rect x="379" y="142" width="2" height="1" fill="#00aa00"/>
<rect x="383" y="102" width="1" height="41" fill="#00aa00"/>
<rect x="381" y="134" width="2" height="1" fill="#00aa00"/>
<rect x="384" y="102" width="2" height="1" fill="#00aa00"/>
<rect x="389" y="89" width="1" height="31" fill="#00aa00"/>
<rect x="387" y="109" width="2" height="1" fill="#00aa00"/>
<rect x="390" y="107" width="2" height="1" fill="#00aa00"/>
<rect x="394" y="72" width="1" height="34" fill="#00aa00"/>
<rect x="392" y="96" width="2" height="1" fill="#00aa00"/>
<rect x="395" y="85" width="2" height="1" fill="#00aa00"/>
<rect x="400" y="70" width="1" height="25" fill="#ff0033"/>
<rect x="398" y="77" width="2" height="1" fill="#ff0033"/>
<rect x="401" y="94" width="2" height="1" fill="#ff0033"/>
<rect x="405" y="77" width="1" height="39" fill="#ff0033"/>
<rect x="403" y="77" width="2" height="1" fill="#ff0033"/>
<rect x="406" y="102" width="2" height="1" fill="#ff0033"/>
<rect x="410" y="81" width="1" height="31" fill="#00aa00"/>
<rect x="408" y="102" width="2" height="1" fill="#00aa00"/>
<rect x="411" y="102" width="2" height="1" fill="#00aa00"/>
<rect x="416" y="100" width="1" height="39" fill="#ff0033"/>
<rect x="414" y="112" width="2" height="1" fill="#ff0033"/>
<rect x="417" y="115" width="2" height="1" fill="#ff0033"/>
<rect x="421" y="58" width="1" height="80" fill="#00aa00"/>
<rect x="419" y="101" width="2" height="1" fill="#00aa00"/>
<rect x="422" y="58" width="2" height="1" fill="#00aa00"/>
<rect x="427" y="59" width="1" height="44" fill="#ff0033"/>
<rect x="425" y="59" width="2" height="1" fill="#ff0033"/>
<rect x="428" y="83" width="2" height="1" fill="#ff0033"/>
<rect x="432" y="74" width="1" height="36" fill="#00aa00"/>
<rect x="430" y="79" width="2" height="1" fill="#00aa00"/>
<rect x="433" y="74" width="2" height="1" fill="#00aa00"/>
<rect x="437" y="59" width="1" height="31" fill="#00aa00"/>
<rect x="435" y="89" width="2" height="1" fill="#00aa00"/>
<rect x="438" y="77" width="2" height="1" fill="#00aa00"/>
<rect x="443" y="50" width="1" height="28" fill="#00aa00"/>
<rect x="441" y="64" width="2" height="1" fill="#00aa00"/>
<rect x="444" y="52" width="2" height="1" fill="#00aa00"/>
<rect x="448" y="46" width="1" height="108" fill="#ff0033"/>
<rect x="446" y="58" width="2" height="1" fill="#ff0033"/>
<rect x="449" y="102" width="2" height="1" fill="#ff0033"/>
<rect x="454" y="77" width="1" height="107" fill="#ff0033"/>
<rect x="452" y="110" width="2" height="1" fill="#ff0033"/>
<rect x="455" y="168" width="2" height="1" fill="#ff0033"/>
<rect x="459" y="122" width="1" height="85" fill="#00aa00"/>
<rect x="457" y="158" width="2" height="1" fill="#00aa00"/>
<rect x="460" y="151" width="2" height="1" fill="#00aa00"/>
<rect x="464" y="121" width="1" height="48" fill="#ff0033"/>
<rect x="462" y="141" width="2" height="1" fill="#ff0033"/>
<rect x="465" y="156" width="2" height="1" fill="#ff0033"/>
<rect x="470" y="131" width="1" height="40" fill="#00aa00"/>
<rect x="468" y="158" width="2" height="1" fill="#00aa00"/>
<rect x="471" y="151" width="2" height="1" fill="#00aa00"/>
<rect x="475" y="138" width="1" height="46" fill="#ff0033"/>
<rect x="473" y="155" width="2" height="1" fill="#ff0033"/>
<rect x="476" y="158" width="2" height="1" fill="#ff0033"/>
<rect x="481" y="135" width="1" height="36" fill="#00aa00"/>
<rect x="479" y="163" width="2" height="1" fill="#00aa00"/>
<rect x="482" y="145" width="2" height="1" fill="#00aa00"/>
<rect x="486" y="116" width="1" height="48" fill="#ff0033"/>
<rect x="484" y="129" width="2" height="1" fill="#ff0033"/>
<rect x="487" y="130" width="2" height="1" fill="#ff0033"/>
<rect x="491" y="126" width="1" height="28" fill="#ff0033"/>
<rect x="489" y="126" width="2" height="1" fill="#ff0033"/>
<rect x="492" y="139" width="2" height="1" fill="#ff0033"/>
<rect x="497" y="115" width="1" height="41" fill="#00aa00"/>
<rect x="495" y="143" width="2" height="1" fill="#00aa00"/>
<rect x="498" y="117" width="2" height="1" fill="#00aa00"/>
<rect x="502" y="117" width="1" height="33" fill="#ff0033"/>
<rect x="500" y="122" width="2" height="1" fill="#ff0033"/>
<rect x="503" y="131" width="2" height="1" fill="#ff0033"/>
<rect x="508" y="117" width="1" height="31" fill="#ff0033"/>
<rect x="506" y="135" width="2" height="1" fill="#ff0033"/>
<rect x="509" y="139" width="2" height="1" fill="#ff0033"/>
<rect x="513" y="116" width="1" height="35" fill="#ff0033"/>
<rect x="511" y="129" width="2" height="1" fill="#ff0033"/>
<rect x="514" y="142" width="2" height="1" fill="#ff0033"/>
<rect x="519" y="123" width="1" height="30" fill="#00aa00"/>
<rect x="517" y="139" width="2" height="1" fill="#00aa00"/>
<rect x="520" y="136" width="2" height="1" fill="#00aa00"/>
<rect x="524" y="109" width="1" height="48" fill="#00aa00"/>
<rect x="522" y="135" width="2" height="1" fill="#00aa00"/>
<rect x="525" y="129" width="2" height="1" fill="#00aa00"/>
<rect x="529" y="118" width="1" height="18" fill="#00aa00"/>
<rect x="527" y="129" width="2" height="1" fill="#00aa00"/>
<rect x="530" y="129" width="2" height="1" fill="#00aa00"/>
<rect x="535" y="115" width="1" height="18" fill="#00aa00"/>
<rect x="533" y="130" width="2" height="1" fill="#00aa00"/>
<rect x="536" y="129" width="2" height="1" fill="#00aa00"/>
<rect x="540" y="123" width="1" height="27" fill="#ff0033"/>
<rect x="538" y="125" width="2" height="1" fill="#ff0033"/>
<rect x="541" y="129" width="2" height="1" fill="#ff0033"/>
<rect x="546" y="80" width="1" height="82" fill="#00aa00"/>
<rect x="544" y="146" width="2" height="1" fill="#00aa00"/>
<rect x="547" y="121" width="2" height="1" fill="#00aa00"/>
<rect x="551" y="109" width="1" height="21" fill="#ff0033"/>
<rect x="549" y="117" width="2" height="1" fill="#ff0033"/>
<rect x="552" y="119" width="2" height="1" fill="#ff0033"/>
<rect x="556" y="102" width="1" height="31" fill="#ff0033"/>
<rect x="554" y="117" width="2" height="1" fill="#ff0033"/>
<rect x="557" y="123" width="2" height="1" fill="#ff0033"/>
<rect x="562" y="96" width="1" height="36" fill="#ff0033"/>
<rect x="560" y="121" width="2" height="1" fill="#ff0033"/>
<rect x="563" y="123" width="2" height="1" fill="#ff0033"/>
<rect x="567" y="116" width="1" height="31" fill="#ff0033"/>
<rect x="565" y="116" width="2" height="1" fill="#ff0033"/>
<rect x="568" y="146" width="2" height="1" fill="#ff0033"/>
<rect x="573" y="136" width="1" height="35" fill="#ff0033"/>
<rect x="571" y="144" width="2" height="1" fill="#ff0033"/>
<rect x="574" y="149" width="2" height="1" fill="#ff0033"/>
<rect x="578" y="115" width="1" height="35" fill="#00aa00"/>
<rect x="576" y="149" width="2" height="1" fill="#00aa00"/>
<rect x="579" y="125" width="2" height="1" fill="#00aa00"/>
<rect x="583" y="103" width="1" height="40" fill="#ff0033"/>
<rect x="581" y="115" width="2" height="1" fill="#ff0033"/>
<rect x="584" y="135" width="2" height="1" fill="#ff0033"/>
<rect x="589" y="114" width="1" height="42" fill="#ff0033"/>
<rect x="587" y="114" width="2" height="1" fill="#ff0033"/>
<rect x="590" y="150" width="2" height="1" fill="#ff0033"/>
<rect x="594" y="122" width="1" height="42" fill="#ff0033"/>
<rect x="592" y="145" width="2" height="1" fill="#ff0033"/>
<rect x="595" y="148" width="2" height="1" fill="#ff0033"/>
<rect x="600" y="150" width="1" height="50" fill="#ff0033"/>
<rect x="598" y="156" width="2" height="1" fill="#ff0033"/>
<rect x="601" y="170" width="2" height="1" fill="#ff0033"/>
<rect x="605" y="148" width="1" height="64" fill="#ff0033"/>
<rect x="603" y="166" width="2" height="1" fill="#ff0033"/>
<rect x="606" y="192" width="2" height="1" fill="#ff0033"/>
<rect x="610" y="111" width="1" height="94" fill="#00aa00"/>
<rect x="608" y="199" width="2" height="1" fill="#00aa00"/>
<rect x="611" y="145" width="2" height="1" fill="#00aa00"/>
<rect x="616" y="117" width="1" height="47" fill="#ff0033"/>
<rect x="614" y="142" width="2" height="1" fill="#ff0033"/>
<rect x="617" y="151" width="2" height="1" fill="#ff0033"/>
<rect x="621" y="144" width="1" height="27" fill="#ff0033"/>
<rect x="619" y="152" width="2" height="1" fill="#ff0033"/>
<rect x="622" y="163" width="2" height="1" fill="#ff0033"/>
<rect x="627" y="151" width="1" height="20" fill="#00aa00"/>
<rect x="625" y="162" width="2" height="1" fill="#00aa00"/>
<rect x="628" y="159" width="2" height="1" fill="#00aa00"/>
<rect x="632" y="151" width="1" height="25" fill="#00aa00"/>
<rect x="630" y="171" width="2" height="1" fill="#00aa00"/>
<rect x="633" y="159" width="2" height="1" fill="#00aa00"/>
<rect x="638" y="151" width="1" height="27" fill="#00aa00"/>
<rect x="636" y="166" width="2" height="1" fill="#00aa00"/>
<rect x="639" y="152" width="2" height="1" fill="#00aa00"/>
<rect x="643" y="147" width="1" height="24" fill="#ff0033"/>
<rect x="641" y="151" width="2" height="1" fill="#ff0033"/>
<rect x="644" y="170" width="2" height="1" fill="#ff0033"/>
<rect x="648" y="159" width="1" height="26" fill="#ff0033"/>
<rect x="646" y="163" width="2" height="1" fill="#ff0033"/>
<rect x="649" y="170" width="2" height="1" fill="#ff0033"/>
<rect x="654" y="159" width="1" height="158" fill="#ff0033"/>
<rect x="652" y="169" width="2" height="1" fill="#ff0033"/>
<rect x="655" y="287" width="2" height="1" fill="#ff0033"/>
<rect x="659" y="202" width="1" height="88" fill="#00aa00"/>
<rect x="657" y="287" width="2" height="1" fill="#00aa00"/>
<rect x="660" y="222" width="2" height="1" fill="#00aa00"/>
<rect x="665" y="199" width="1" height="47" fill="#ff0033"/>
<rect x="663" y="207" width="2" height="1" fill="#ff0033"/>
<rect x="666" y="226" width="2" height="1" fill="#ff0033"/>
<rect x="670" y="177" width="1" height="70" fill="#ff0033"/>
<rect x="668" y="200" width="2" height="1" fill="#ff0033"/>
<rect x="671" y="202" width="2" height="1" fill="#ff0033"/>
<rect x="675" y="163" width="1" height="45" fill="#ff0033"/>
<rect x="673" y="163" width="2" height="1" fill="#ff0033"/>
<rect x="676" y="179" width="2" height="1" fill="#ff0033"/>
<rect x="681" y="178" width="1" height="30" fill="#ff0033"/>
<rect x="679" y="182" width="2" height="1" fill="#ff0033"/>
<rect x="682" y="199" width="2" height="1" fill="#ff0033"/>
<rect x="686" y="185" width="1" height="86" fill="#ff0033"/>
<rect x="684" y="199" width="2" height="1" fill="#ff0033"/>
<rect x="687" y="254" width="2" height="1" fill="#ff0033"/>
<rect x="692" y="230" width="1" height="48" fill="#ff0033"/>
<rect x="690" y="243" width="2" height="1" fill="#ff0033"/>
<rect x="693" y="265" width="2" height="1" fill="#ff0033"/>
<rect x="697" y="254" width="1" height="42" fill="#ff0033"/>
<rect x="695" y="262" width="2" height="1" fill="#ff0033"/>
<rect x="698" y="284" width="2" height="1" fill="#ff0033"/>
<rect x="702" y="262" width="1" height="31" fill="#ff0033"/>
<rect x="700" y="280" width="2" height="1" fill="#ff0033"/>
<rect x="703" y="292" width="2" height="1" fill="#ff0033"/>
</g>
<g shape-rendering="crispEdges"><rect x="1" y="416" width="1" height="1" fill="#00aa00"/></g>
<g shape-rendering="crispEdges">
<rect x="455" y="206" width="250" height="1" fill="#000"/>
</g>
<polyline points="0.50,408.75 3.75,413.75 7.50,422.50 12.50,433.75 16.25,440.00 25.00,438.00 32.50,432.50 38.75,417.50 43.75,402.50 50.00,389.50 55.00,383.75 65.00,370.00 77.50,361.00 87.50,358.00 97.50,350.60 106.25,344.40 113.25,340.00 124.40,340.00 135.60,342.50 145.60,346.90 152.50,352.50 160.00,360.00 167.50,365.00 172.50,366.25 178.50,363.00 185.00,359.40 189.40,355.50 199.40,349.40 210.60,345.60 221.60,342.50 232.50,338.10 243.50,333.75 254.75,324.40 264.75,313.75 270.60,307.50 281.50,297.50 286.50,292.00 291.60,288.00 297.50,286.25 305.00,281.25 313.50,273.75 320.00,270.00 324.75,270.00 329.40,265.00 335.60,260.00 342.50,253.00 350.00,242.50 353.75,235.00 362.50,216.00 373.40,195.00 383.75,175.00 392.50,153.75 396.25,145.00 401.25,133.75 405.40,123.75 410.60,117.50 416.50,113.75 421.50,106.25 427.50,98.75 432.50,93.00 437.50,88.75 443.40,84.40 448.50,86.25 454.40,93.00 464.40,102.50 470.60,107.00 477.50,118.75 486.25,128.75 491.50,134.40 497.50,141.25 502.50,145.60 508.50,142.75 513.50,142.50 519.40,139.40 524.40,136.90 529.40,133.75 535.40,131.90 540.40,131.90 546.50,130.00 551.50,130.00 556.50,128.75 562.50,128.00 567.50,128.75 573.50,130.00 578.40,129.40 583.50,130.60 589.40,132.50 594.60,135.00 600.40,139.40 605.60,145.60 610.60,147.50 616.25,150.60 621.50,152.50 627.50,154.40 632.50,156.25 638.50,156.90 643.50,161.25 648.50,164.40 652.50,170.00 659.40,177.50 665.40,185.60 670.40,190.00 675.40,192.50 681.25,197.00 686.50,205.00 692.50,216.25 697.50,227.50 702.50,239.60" fill="none" stroke="#9c9c9c" stroke-width="1.12" stroke-dasharray="4.3,4"/>
<polyline points="0.50,399.40 5.40,399.40 16.25,395.60 26.50,388.00 37.50,379.00 43.40,375.80 54.00,374.40 59.40,375.00 70.40,371.25 81.00,375.00 91.50,378.30 97.50,378.10 106.25,377.50 115.00,378.75 124.40,380.40 135.60,379.40 145.60,373.75 156.25,366.90 167.50,360.60 178.50,356.25 189.40,352.50 194.60,351.25 205.60,350.25 216.50,350.25 232.50,347.50 243.50,344.40 255.00,340.40 265.00,339.00 281.25,334.40 290.00,328.00 297.50,325.00 308.50,318.00 313.50,313.00 324.75,305.60 335.60,298.00 345.60,290.00 350.00,287.25 351.90,285.60 360.00,277.50 367.50,265.60 373.75,260.00 380.00,250.00 383.75,243.75 390.00,235.00 397.50,225.00 405.00,213.75 410.00,207.20 417.50,198.75 430.00,183.50 436.25,173.75 442.50,165.00 448.50,160.00 454.40,156.25 459.40,151.25 464.40,147.50 470.40,144.40 475.40,142.50 481.25,139.40 486.50,134.40 491.50,131.25 497.50,128.00 502.50,125.00 508.50,122.50 513.50,120.00 519.40,119.40 524.40,119.20 529.40,118.40 535.40,118.40 540.40,117.25 546.50,118.00 551.50,118.00 556.50,119.60 562.50,121.25 567.50,122.50 573.50,123.75 578.40,124.60 583.50,126.90 589.40,130.00 594.60,131.90 600.40,134.75 605.60,139.40 610.60,141.40 616.25,140.60 621.50,141.25 632.50,141.50 643.50,141.50 648.50,143.00 652.50,146.25 659.40,152.00 665.40,155.00 670.40,156.25 675.40,157.25 681.25,159.40 686.50,163.75 692.50,167.50 697.50,172.50 702.50,178.00" fill="none" stroke="#0033ff" stroke-width="1.1" stroke-linejoin="round"/>
<polyline points="0.50,422.00 5.50,447.50 10.50,443.40 16.50,412.25 21.50,402.25 26.50,396.25 32.50,375.60 37.50,358.40 43.50,348.00 48.50,343.40 53.50,332.50 59.50,375.60 64.50,358.40 70.50,358.40 75.50,382.50 80.50,362.00 86.50,369.00 91.50,348.50 97.50,304.60 102.50,287.25 107.50,304.40 113.50,330.00 118.50,342.50 124.50,380.00 129.50,380.60 135.50,387.50 140.50,385.25 145.50,367.50 151.50,360.25 156.50,354.40 162.50,339.40 167.50,358.00 172.50,350.60 178.50,348.50 183.50,349.40 189.50,335.00 194.50,352.25 199.50,343.00 205.50,338.75 210.50,333.50 216.50,348.50 221.50,321.25 226.50,330.40 232.50,334.40 237.50,330.40 243.50,321.25 248.50,321.25 254.50,287.50 259.50,277.25 264.50,278.00 270.50,262.50 275.50,277.50 281.50,287.50 286.50,262.50 291.50,307.50 297.50,304.40 302.50,287.50 308.50,259.40 313.50,227.50 318.50,247.25 324.50,246.20 329.50,226.20 335.50,227.50 340.50,249.30 345.50,222.40 351.50,222.40 356.50,163.00 362.50,142.40 367.50,151.40 373.50,149.20 378.50,142.25 383.50,102.50 389.50,107.25 394.50,85.60 400.50,94.00 405.50,102.50 410.50,102.50 416.50,115.00 421.50,58.00 427.50,83.00 432.50,74.40 437.50,77.25 443.50,52.50 448.50,102.50 454.50,168.00 459.50,151.50 464.50,156.25 470.50,151.25 475.50,158.00 481.50,145.40 486.50,130.30 491.50,139.40 497.50,117.40 502.50,131.50 508.50,139.40 513.50,142.50 519.50,136.50 524.50,129.40 529.50,129.40 535.50,129.40 540.50,129.40 546.50,121.25 551.50,119.40 556.50,123.50 562.50,123.50 567.50,146.25 573.50,149.40 578.50,125.00 583.50,135.00 589.50,150.40 594.50,148.50 600.50,170.25 605.50,192.00 610.50,145.40 616.50,151.50 621.50,163.00 627.50,159.40 632.50,159.40 638.50,152.25 643.50,170.25 648.50,170.25 654.50,287.50 659.50,222.25 665.50,226.25 670.50,202.00 675.50,179.40 681.50,199.40 686.50,254.00 692.50,265.25 697.50,284.40 702.50,292.25" fill="none" stroke="#000066" stroke-width="1.1" stroke-linejoin="round"/>
<polyline points="1.00,669.40 7.50,672.75 16.25,675.60 21.60,678.10 27.00,679.40 36.25,682.50 43.25,686.25 54.00,690.40 64.75,694.40 70.25,695.25 91.75,695.25 97.25,694.50 107.50,694.40 113.75,693.40 118.75,693.50 124.10,694.60 131.25,693.40 145.75,693.40 151.10,692.25 157.50,691.25 162.50,691.25 172.75,693.50 178.10,693.50 183.50,694.50 195.00,694.40 242.50,703.40 265.00,703.40 271.25,702.25 285.00,702.50 291.25,701.50 297.50,702.50 351.25,702.50 360.00,700.60 372.50,698.50 378.75,698.10 385.00,697.60 390.00,697.10 401.25,696.50 416.25,693.40 421.25,691.25 436.25,688.40 453.75,685.25 460.00,685.25 470.00,683.50 480.00,682.70 486.25,681.90 497.50,680.00 507.50,679.40 527.50,676.60 537.50,676.00 550.00,674.40 562.50,674.10 570.00,674.40 577.50,673.10 600.00,673.10 605.00,674.40 616.25,674.60 626.25,676.25 635.00,677.10 645.00,679.00 657.50,682.10 662.50,683.75 670.00,686.50 675.00,688.50 681.25,689.40 691.25,694.40 697.50,696.90 702.50,699.60" fill="none" stroke="#ff0000" stroke-width="1.05" stroke-linejoin="round"/>
<polyline points="1.00,707.50 5.50,715.60 10.50,720.60 16.50,705.25 21.50,701.25 26.50,700.00 32.50,696.90 37.50,689.60 43.50,688.50 48.50,688.10 53.50,681.25 59.50,700.60 64.50,699.40 70.50,705.00 75.50,715.40 80.50,702.50 86.50,709.40 91.50,692.50 97.50,674.40 102.50,659.40 107.50,668.75 113.50,673.40 118.50,673.40 124.50,703.40 129.50,705.60 135.50,708.50 140.50,706.25 145.50,701.90 151.50,693.40 156.50,704.40 162.50,699.40 167.50,710.40 172.50,710.40 178.50,711.25 183.50,712.25 189.50,706.25 194.50,713.40 199.50,710.40 205.50,715.40 210.50,714.40 216.50,720.40 221.50,710.40 226.50,711.50 232.50,720.40 237.50,712.25 243.50,713.40 248.50,719.40 254.50,708.40 259.50,709.40 264.50,707.25 270.50,696.50 275.50,705.25 281.50,706.25 286.50,688.30 291.50,711.25 297.50,715.00 302.50,716.50 308.50,706.25 313.50,692.25 318.50,704.40 324.50,700.60 329.50,684.40 335.50,685.60 340.50,690.25 345.50,682.25 351.50,689.40 356.50,664.40 362.50,650.40 367.50,654.00 373.50,656.25 378.50,661.25 383.50,643.30 389.50,646.25 394.50,636.50 400.50,646.25 405.50,653.10 410.50,653.10 416.50,659.10 421.50,622.50 427.50,645.25 432.50,645.25 437.50,645.25 443.50,634.40 448.50,659.40 454.50,683.10 459.50,673.40 464.50,678.10 470.50,682.50 475.50,686.25 481.50,684.90 486.50,680.60 491.50,678.10 497.50,672.25 502.50,677.50 508.50,683.40 513.50,675.40 519.50,680.25 524.50,677.25 529.50,680.25 535.50,680.25 540.50,680.25 546.50,680.25 551.50,683.10 556.50,690.40 562.50,687.25 567.50,702.25 573.50,703.45 578.50,696.25 583.50,698.50 589.50,706.25 594.50,706.25 600.50,707.25 605.50,717.25 610.50,700.40 616.50,708.10 621.50,716.50 627.50,715.40 632.50,712.50 638.50,712.50 643.50,716.50 648.50,714.40 654.50,752.50 659.50,723.50 665.50,736.50 670.50,734.40 675.50,727.25 681.50,736.25 686.50,760.40 692.50,765.60 697.50,773.10 702.50,769.40" fill="none" stroke="#10109a" stroke-width="1.1" stroke-linejoin="round"/>
<g shape-rendering="crispEdges">
<rect x="1" y="21" width="446" height="12" fill="#f0f0f0"/>
<rect x="1" y="33" width="447" height="1" fill="#c4c4c4"/>
<rect x="30" y="21" width="1" height="13" fill="#c4c4c4"/>
<rect x="165" y="21" width="1" height="13" fill="#c4c4c4"/>
<rect x="306" y="21" width="1" height="13" fill="#c4c4c4"/>
<rect x="447" y="21" width="1" height="13" fill="#c4c4c4"/>
</g>
<text x="3.3" y="29.6" font-size="11" fill="#000" stroke="#000" stroke-width="0.3" textLength="24.8" lengthAdjust="spacingAndGlyphs" xml:space="preserve">Price</text>
<text x="33.6" y="29.6" font-size="11" fill="#000080" stroke="#000080" stroke-width="0.3" textLength="129.2" lengthAdjust="spacingAndGlyphs" xml:space="preserve">Moving average (Simple 1)</text>
<text x="168.5" y="29.6" font-size="11" fill="#0033ff" stroke="#0033ff" stroke-width="0.18" textLength="135.2" lengthAdjust="spacingAndGlyphs" xml:space="preserve">Moving average (Simple 30)</text>
<text x="309.6" y="29.6" font-size="11" fill="#a0a0a0" stroke="#a0a0a0" stroke-width="0.1" textLength="135" lengthAdjust="spacingAndGlyphs" xml:space="preserve">Moving average (Simple 10)</text>
<g shape-rendering="crispEdges">
<rect x="1" y="502" width="181" height="12" fill="#f0f0f0"/>
<rect x="1" y="514" width="182" height="1" fill="#c4c4c4"/>
<rect x="41" y="502" width="1" height="13" fill="#c4c4c4"/>
<rect x="182" y="502" width="1" height="13" fill="#c4c4c4"/>
</g>
<text x="3" y="510.6" font-size="11" fill="#a0a0a0" stroke="#a0a0a0" stroke-width="0.1" textLength="35.5" lengthAdjust="spacingAndGlyphs" xml:space="preserve">Volume</text>
<text x="44.5" y="510.6" font-size="11" fill="#e05555" stroke="#e05555" stroke-width="0.1" textLength="135" lengthAdjust="spacingAndGlyphs" xml:space="preserve">Moving average (Simple 52)</text>
<g shape-rendering="crispEdges">
<rect x="1" y="615" width="266" height="12" fill="#f0f0f0"/>
<rect x="1" y="627" width="267" height="1" fill="#c4c4c4"/>
<rect x="125" y="615" width="1" height="13" fill="#c4c4c4"/>
<rect x="267" y="615" width="1" height="13" fill="#c4c4c4"/>
</g>
<text x="3.4" y="623.6" font-size="11" fill="#10109a" stroke="#10109a" stroke-width="0.18" textLength="118.6" lengthAdjust="spacingAndGlyphs" xml:space="preserve">RS (S&amp;P500 Index) [*10]</text>
<text x="128.4" y="623.6" font-size="11" fill="#ff0000" stroke="#ff0000" stroke-width="0.18" textLength="135" lengthAdjust="spacingAndGlyphs" xml:space="preserve">Moving average (Simple 52)</text>
<defs><linearGradient id="gold" x1="0" y1="0" x2="0" y2="1"><stop offset="0" stop-color="#ffe400"/><stop offset="1" stop-color="#f0b400"/></linearGradient></defs>
<g shape-rendering="crispEdges">
<rect x="743" y="178" width="4" height="1" fill="#0033ff"/>
<rect x="747.5" y="171.5" width="36" height="14" fill="#f0f0f0" stroke="#c4c4c4"/>
</g>
<text x="749.1" y="181.7" font-size="11" fill="#0033ff" stroke="#0033ff" stroke-width="0.18" textLength="32.4" lengthAdjust="spacingAndGlyphs" xml:space="preserve">484.94</text>
<g shape-rendering="crispEdges">
<rect x="743" y="240" width="4" height="1" fill="#a0a0a0"/>
<rect x="747.5" y="233.5" width="36" height="14" fill="#f0f0f0" stroke="#c4c4c4"/>
</g>
<text x="749.1" y="243.7" font-size="11" fill="#a0a0a0" stroke="#a0a0a0" stroke-width="0.1" textLength="32.4" lengthAdjust="spacingAndGlyphs" xml:space="preserve">443.62</text>
<g shape-rendering="crispEdges">
<rect x="747.5" y="292.5" width="21" height="14" fill="#f0f0f0" stroke="#c4c4c4"/>
</g>
<text x="749.1" y="302.7" font-size="11" fill="#000080" stroke="#000080" stroke-width="0.3" textLength="17.6" lengthAdjust="spacingAndGlyphs" xml:space="preserve">412</text>
<g shape-rendering="crispEdges">
<rect x="743" y="292" width="4" height="1" fill="#000"/>
<rect x="747.5" y="278.5" width="36" height="14" fill="url(#gold)" stroke="#c4c4c4"/>
</g>
<text x="749.1" y="288.7" font-size="11" fill="#000" stroke="#000" stroke-width="0.3" textLength="32.4" lengthAdjust="spacingAndGlyphs" xml:space="preserve">412.00</text>
<g shape-rendering="crispEdges">
<rect x="743" y="585" width="4" height="1" fill="#a0a0a0"/>
<rect x="747.5" y="583.5" width="36" height="14" fill="#f0f0f0" stroke="#c4c4c4"/>
</g>
<text x="749.1" y="593.7" font-size="11" fill="#a0a0a0" stroke="#a0a0a0" stroke-width="0.1" textLength="32.6" lengthAdjust="spacingAndGlyphs" xml:space="preserve">76,139</text>
<g shape-rendering="crispEdges">
<rect x="743" y="581" width="4" height="1" fill="#e05555"/>
<rect x="747.5" y="569.5" width="36" height="14" fill="#f0f0f0" stroke="#c4c4c4"/>
</g>
<text x="749.1" y="579.7" font-size="11" fill="#e05555" stroke="#e05555" stroke-width="0.1" textLength="32.6" lengthAdjust="spacingAndGlyphs" xml:space="preserve">88,681</text>
<g shape-rendering="crispEdges">
<rect x="743" y="699" width="4" height="1" fill="#ff0000"/>
<rect x="747.5" y="692.5" width="36" height="14" fill="#f0f0f0" stroke="#c4c4c4"/>
</g>
<text x="749.1" y="702.7" font-size="11" fill="#ff0000" stroke="#ff0000" stroke-width="0.18" textLength="32.4" lengthAdjust="spacingAndGlyphs" xml:space="preserve">2.6145</text>
<g shape-rendering="crispEdges">
<rect x="743" y="769" width="4" height="1" fill="#10109a"/>
<rect x="747.5" y="762.5" width="36" height="14" fill="#f0f0f0" stroke="#c4c4c4"/>
</g>
<text x="749.1" y="772.7" font-size="11" fill="#10109a" stroke="#10109a" stroke-width="0.18" textLength="32.4" lengthAdjust="spacingAndGlyphs" xml:space="preserve">2.0334</text>
<g shape-rendering="crispEdges">
<rect x="6" y="8" width="1" height="11" fill="#c03030"/>
<rect x="3.5" y="10.5" width="6" height="6" fill="#e87070" stroke="#c83838"/>
<rect x="14" y="3" width="1" height="16" fill="#10a010"/>
<rect x="11.5" y="6.5" width="6" height="9" fill="#60e060" stroke="#18a818"/>
</g>
<text x="23.5" y="13.6" font-size="11" fill="#000" stroke="#000" stroke-width="0.2" font-weight="bold" textLength="83" lengthAdjust="spacingAndGlyphs" xml:space="preserve">BRAEMAR SHIP</text>
<text x="115.5" y="13.6" font-size="11" fill="#000" stroke="#000" stroke-width="0.2" font-weight="bold" textLength="79.5" lengthAdjust="spacingAndGlyphs" xml:space="preserve">-4.19% (412.00)</text>
<text x="204" y="13.6" font-size="11" fill="#000" stroke="#000" stroke-width="0.2" font-weight="bold" textLength="37.5" lengthAdjust="spacingAndGlyphs" xml:space="preserve">Weekly</text>
<text x="250.5" y="13.6" font-size="11" fill="#000" stroke="#000" stroke-width="0.2" font-weight="bold" textLength="63" lengthAdjust="spacingAndGlyphs" xml:space="preserve">10-Dec-2014</text>
<text x="674.4" y="13.4" font-size="11" fill="#000" stroke="#000" stroke-width="0.2" font-weight="bold" textLength="122.5" lengthAdjust="spacingAndGlyphs" xml:space="preserve">www.ProRealTime.com</text>
<text x="3" y="495.6" font-size="11" fill="#000" stroke="#000" stroke-width="0.3" textLength="97.7" lengthAdjust="spacingAndGlyphs" xml:space="preserve">© ProRealTime.com</text>
<text x="644.3" y="355" font-size="12" fill="#000" stroke="#000" stroke-width="0.2" font-weight="bold" text-anchor="middle" xml:space="preserve">Potential for a Stage 4</text>
<text x="643.9" y="368.6" font-size="12" fill="#000" stroke="#000" stroke-width="0.2" font-weight="bold" text-anchor="middle" xml:space="preserve">continuation attempt</text>
</svg>
</body></html>
